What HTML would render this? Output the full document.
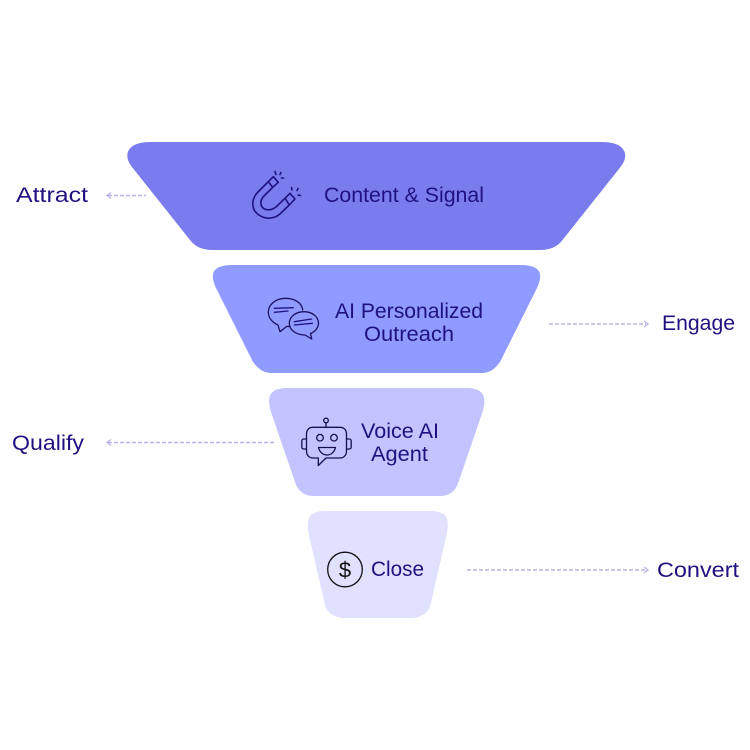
<!DOCTYPE html>
<html><head><meta charset="utf-8"><style>
html,body{margin:0;padding:0;background:#fff}
svg{display:block}
text{font-family:"Liberation Sans",sans-serif;font-size:21px;fill:#1f1280}
.d{fill:none;stroke:#b9b5e2;stroke-width:1.4;stroke-dasharray:4 2}
.a{fill:none;stroke:#b9b5e2;stroke-width:1.3}
.i{fill:none;stroke:#1f1280;stroke-width:1.6;stroke-linecap:round;stroke-linejoin:round}
.k{fill:none;stroke:#1b1260;stroke-width:1.3;stroke-linecap:round;stroke-linejoin:round}
.r{fill:none;stroke:#15104a;stroke-width:1.3;stroke-linecap:round;stroke-linejoin:round}
</style></head><body>
<svg width="750" height="750" viewBox="0 0 750 750" xmlns="http://www.w3.org/2000/svg">
<rect width="750" height="750" fill="#fff"/>
<path fill="#7a7bec" d="M150 142H602.500C624.500 142 630.500 154.400 620.500 167L562.500 240C557 247 550 250 540 250H212.500C202.500 250 195.500 247 190 240L132 167C122 154.400 128 142 150 142Z"/>
<path fill="#8f9bff" d="M234 265H519C537 265 546 270 536 290L500 362C494 370 489 373 481 373H272C264 373 259 370 253 362L217 290C207 270 216 265 234 265Z"/>
<path fill="#c3c3ff" d="M288 388H465.500C482.500 388 488.500 395 481.500 415L458.500 482C455.500 491 449.500 496 439.500 496H314C304 496 298 491 295 482L272 415C265 395 271 388 288 388Z"/>
<path fill="#e0e0ff" d="M326 511H429.500C445.500 511 450.500 517 446.500 535L430.500 605C428.500 613 420.500 618 410.500 618H345C335 618 327 613 325 605L309 535C305 517 310 511 326 511Z"/>

<text x="16" y="202" textLength="72" lengthAdjust="spacingAndGlyphs">Attract</text>
<text x="662" y="330" textLength="73" lengthAdjust="spacingAndGlyphs">Engage</text>
<text x="12" y="450" textLength="72" lengthAdjust="spacingAndGlyphs">Qualify</text>
<text x="657" y="577" textLength="82" lengthAdjust="spacingAndGlyphs">Convert</text>
<text x="324" y="202" textLength="160" lengthAdjust="spacingAndGlyphs">Content &amp; Signal</text>
<text x="335" y="318" textLength="148" lengthAdjust="spacingAndGlyphs">AI Personalized</text>
<text x="364" y="341" textLength="90" lengthAdjust="spacingAndGlyphs">Outreach</text>
<text x="361" y="438" textLength="78" lengthAdjust="spacingAndGlyphs">Voice AI</text>
<text x="371" y="461" textLength="57" lengthAdjust="spacingAndGlyphs">Agent</text>
<text x="371" y="576" textLength="53" lengthAdjust="spacingAndGlyphs">Close</text>

<path class="d" d="M108 195.500H146"/><path class="a" d="M111 192.500L107 195.500L111 198.500"/>
<path class="d" d="M549 324H646"/><path class="a" d="M644 321L648 324L644 327"/>
<path class="d" d="M108 442.500H274"/><path class="a" d="M111 439.500L107 442.500L111 445.500"/>
<path class="d" d="M467 570H646"/><path class="a" d="M644 567L648 570L644 573"/>

<!-- magnet -->
<g class="i">
<path d="M268.300 181.700L258 192C250 200 252 211 259 215C266 220 276 219 282 212L289.300 205"/>
<path d="M272.700 187.300L264 196C260 200 260 205 263 208C267 211 272 210 276 207L285 198.300"/>
<path d="M268.300 181.700L273.300 176.700L278.300 182.300L272.700 187.300Z"/>
<path d="M285 198.300L290 193.300L295 199L289.300 205Z"/>
<path d="M275 171.500L276 174.500M281 172.500L280 174.500M281.500 178L283.500 178M291.500 187.500L292 190M298 188.500L297 190.500M298 195L300.500 195.500"/>
</g>
<!-- chat -->
<g class="k">
<path d="M302.700 310C302 303 295 298.300 285.500 298.300C275.500 298.300 268.300 305 268.300 312C268.300 318 272.500 322.500 278 325L280 331.700L286.500 326.500L290 326.500"/>
<path d="M304 311.700C295.500 311.700 289.300 317 289.300 323.300C289.300 330 296 335 305 335L311.700 339L310.500 333.500C315.500 331.500 318.500 327.500 318.500 323.300C318.500 317 312.500 311.700 304 311.700Z"/>
<path d="M274.300 308.300L293.300 307.700M274.300 312.300L288 311M294.300 321.700L311.700 319M294.300 325L312.300 323.300" stroke="#1f1280"/>
</g>
<!-- robot -->
<g class="r">
<circle cx="326" cy="420.500" r="2.300"/>
<path d="M326 423V427.300"/>
<path d="M313 427.300H340C344 427.300 346.500 430 346.500 434V451C346.500 455 344 458 340 458H326L318.300 465.500V458H313C309 458 306.500 455 306.500 451V434C306.500 430 309 427.300 313 427.300Z"/>
<path d="M306.500 439H303.500C302.500 439 301.800 440 301.800 441V447C301.800 448 302.500 449 303.500 449H306.500M346.500 439H349.500C350.500 439 351.200 440 351.200 441V447C351.200 448 350.500 449 349.500 449H346.500"/>
<circle cx="320" cy="437.700" r="3.300"/><circle cx="334" cy="437.700" r="3.300"/>
<path d="M318.500 447.500H335.500C334.500 452 331 455 327 455C323 455 319.500 452 318.500 447.500Z"/>
</g>
<!-- dollar -->
<circle cx="345" cy="569.500" r="17.300" fill="none" stroke="#111" stroke-width="1.300"/>
<text x="345" y="577.500" text-anchor="middle" style="font-size:22px;fill:#111">$</text>
</svg>
</body></html>
